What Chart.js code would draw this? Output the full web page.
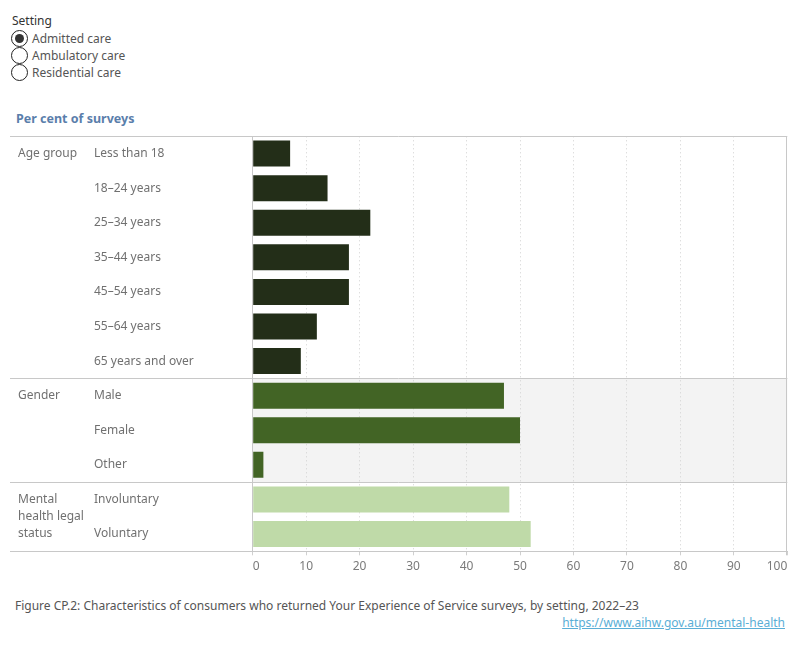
<!DOCTYPE html>
<html>
<head>
<meta charset="utf-8">
<script src="https://cdn.jsdelivr.net/npm/chart.js@4/dist/chart.umd.min.js"></script>
<style>
body{margin:0;width:800px;height:650px;background:#fff;font-family:'Noto Sans',sans-serif;position:relative;overflow:hidden}
#setting{position:absolute;left:11px;top:12px;font-size:12px;color:#333}
#setting .ttl{height:18px;line-height:18px;padding-left:1px}
#setting .opt{height:17px;line-height:17px;color:#555;display:flex;align-items:center}
.rb{display:inline-block;width:15px;height:15px;border:1px solid #222;border-radius:50%;margin-right:4px;position:relative;background:#fff}
.rb.on:after{content:'';position:absolute;left:3px;top:3px;width:9px;height:9px;border-radius:50%;background:#333}
#axisTitle{position:absolute;left:16px;top:110px;font-size:12.5px;font-weight:bold;color:#5a7eab}
#wrap{position:absolute;left:0;top:130px;width:800px;height:450px}
#caption{position:absolute;left:15px;top:597px;font-size:12px;color:#555}
#src{position:absolute;right:15px;top:614px;font-size:12px;color:#5aaed6}
</style>
</head>
<body>
<div id="setting">
  <div class="ttl">Setting</div>
  <div class="opt"><span class="rb on"></span>Admitted care</div>
  <div class="opt"><span class="rb"></span>Ambulatory care</div>
  <div class="opt"><span class="rb"></span>Residential care</div>
</div>
<div id="axisTitle">Per cent of surveys</div>
<div id="wrap"><canvas id="chart"></canvas></div>
<div id="caption">Figure CP.2: Characteristics of consumers who returned Your Experience of Service surveys, by setting, 2022–23</div>
<a id="src" href="https://www.aihw.gov.au/mental-health">https://www.aihw.gov.au/mental-health</a>
<script>
// data (admitted care)
var groups = ['Age group', 'Gender', 'Mental health legal status'];
var groupLines = [['Age group'], ['Gender'], ['Mental', 'health legal', 'status']];
var categories = ['Less than 18', '18–24 years', '25–34 years', '35–44 years', '45–54 years',
    '55–64 years', '65 years and over', 'Male', 'Female', 'Other', 'Involuntary', 'Voluntary'];
var groupOf = [0, 0, 0, 0, 0, 0, 0, 1, 1, 1, 2, 2];
var values = [7, 14, 22, 18, 18, 12, 9, 47, 50, 2, 48, 52];
var xTicks = [0, 10, 20, 30, 40, 50, 60, 70, 80, 90, 100];

var groupColors = ['#232e18', '#426425', '#bfdaa8'];
var lineColor = '#c8c8c8';
var labelColor = '#707070';
var font = "'Noto Sans', sans-serif";

function rowEdges(chart, first, last) {
    var y = chart.scales.y;
    var half = (y.getPixelForValue(1) - y.getPixelForValue(0)) / 2;
    return [y.getPixelForValue(first) - half, y.getPixelForValue(last) + half];
}

var groupFrame = {
    id: 'groupFrame',
    beforeDraw: function (chart) {
        var ctx = chart.ctx, area = chart.chartArea;
        // grey band behind the gender rows
        var first = groupOf.indexOf(1), last = groupOf.lastIndexOf(1);
        var e = rowEdges(chart, first, last);
        ctx.save();
        ctx.fillStyle = '#f3f3f3';
        ctx.fillRect(area.left, e[0], area.right - area.left, e[1] - e[0]);
        ctx.restore();
    },
    afterDraw: function (chart) {
        var ctx = chart.ctx, area = chart.chartArea, y = chart.scales.y;
        ctx.save();
        ctx.strokeStyle = lineColor;
        ctx.lineWidth = 1;
        var lines = [area.top];
        for (var g = 0; g < groups.length; g++) {
            lines.push(rowEdges(chart, groupOf.indexOf(g), groupOf.lastIndexOf(g))[1]);
        }
        lines.forEach(function (py) {
            py = Math.round(py) + 0.5;
            ctx.beginPath();
            ctx.moveTo(10, py);
            ctx.lineTo(area.right, py);
            ctx.stroke();
        });
        var rx = Math.round(area.right) - 0.5;
        ctx.beginPath();
        ctx.moveTo(rx, area.top);
        ctx.lineTo(rx, area.bottom + 4);
        ctx.stroke();

        ctx.fillStyle = labelColor;
        ctx.font = '12px ' + font;
        ctx.textAlign = 'left';
        ctx.textBaseline = 'middle';
        for (var i = 0; i < groups.length; i++) {
            var py0 = y.getPixelForValue(groupOf.indexOf(i));
            groupLines[i].forEach(function (t, k) {
                ctx.fillText(t, 18, py0 + k * 17);
            });
        }
        ctx.restore();
    }
};

var ctx = document.getElementById('chart').getContext('2d');
var chart = new Chart(ctx, {
    type: 'bar',
    data: {
        labels: categories,
        datasets: [{
            data: values,
            backgroundColor: groupOf.map(function (g) { return groupColors[g]; }),
            barPercentage: 0.75,
            categoryPercentage: 1
        }]
    },
    options: {
        indexAxis: 'y',
        responsive: true,
        maintainAspectRatio: false,
        animation: false,
        layout: { padding: { left: 94, right: 12.7, top: 6.3, bottom: 0 } },
        plugins: { legend: { display: false }, tooltip: { enabled: false } },
        scales: {
            x: {
                min: 0,
                max: 100,
                afterBuildTicks: function (scale) {
                    scale.ticks = xTicks.map(function (v) { return { value: v }; });
                },
                afterFit: function (scale) {
                    scale.height = 28.7;
                    scale.paddingLeft = 0;
                    scale.paddingRight = 0;
                },
                grid: {
                    color: function (c) {
                        return (c.tick && (c.tick.value === 0 || c.tick.value === 100)) ? 'rgba(0,0,0,0)' : '#d0d0d0';
                    },
                    tickColor: '#d0d0d0',
                    tickLength: 4
                },
                border: { color: lineColor, dash: [1, 3] },
                ticks: {
                    align: 'inner',
                    color: '#7a7a7a',
                    padding: 4,
                    maxRotation: 0,
                    autoSkip: false,
                    font: { family: font, size: 12 }
                }
            },
            y: {
                afterFit: function (scale) {
                    scale.width = 158.7;
                    scale.paddingTop = 0;
                    scale.paddingBottom = 0;
                },
                grid: { display: false },
                border: { color: lineColor },
                ticks: {
                    crossAlign: 'far',
                    color: labelColor,
                    autoSkip: false,
                    font: { family: font, size: 12 }
                }
            }
        }
    },
    plugins: [groupFrame]
});
</script>
</body>
</html>
